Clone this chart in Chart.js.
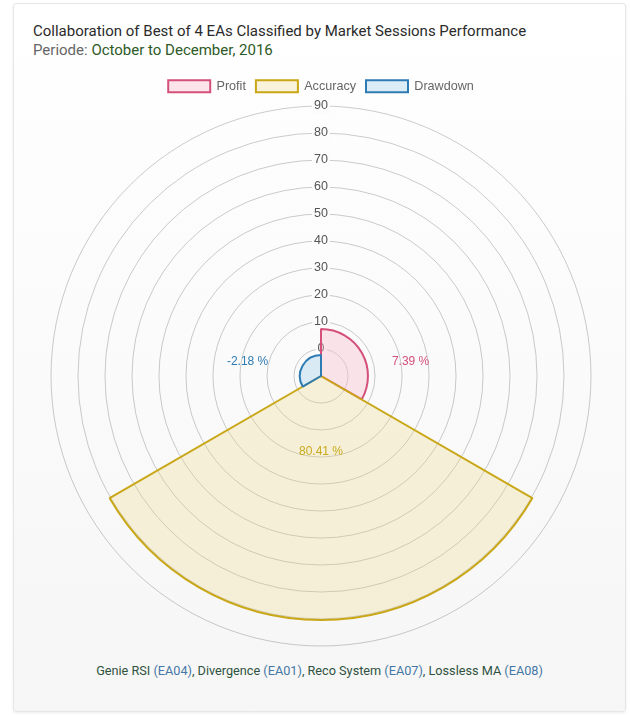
<!DOCTYPE html>
<html>
<head>
<meta charset="utf-8">
<script src="https://cdn.jsdelivr.net/npm/chart.js@4.4.1/dist/chart.umd.min.js"></script>
<style>
    body { margin: 0; background: #fff; font-family: Roboto, "Open Sans", sans-serif; }
    .card {
        position: absolute; left: 13px; top: 3px; width: 611px; height: 707px;
        border: 1px solid #e6e6e6; border-radius: 3px;
        box-shadow: 0 1px 3px rgba(0,0,0,0.08);
        background: linear-gradient(#ffffff, #f6f6f6);
    }
    .title { position: absolute; left: 19px; top: 18px; font-size: 15px; color: #2b2b2b; white-space: nowrap; }
    .sub { position: absolute; left: 19px; top: 37px; font-size: 15px; color: #666; white-space: nowrap; }
    .sub span { color: #2d5a27; }
    .foot { position: absolute; left: 0; width: 611px; top: 659px; text-align: center; font-size: 12.7px; color: #2f5240; }
    .foot span { color: #4577a6; }
    .wrap { position: absolute; left: 16px; top: 70px; width: 610px; height: 585px; }
</style>
</head>
<body>
<div class="card">
    <div class="title">Collaboration of Best of 4 EAs Classified by Market Sessions Performance</div>
    <div class="sub">Periode: <span>October to December, 2016</span></div>
    <div class="foot">Genie RSI <span>(EA04)</span>, Divergence <span>(EA01)</span>, Reco System <span>(EA07)</span>, Lossless MA <span>(EA08)</span></div>
</div>
<div class="wrap"><canvas id="chart"></canvas></div>
<script>
// values (in %)
const labels = ["Profit", "Accuracy", "Drawdown"];
const values = [7.39, 80.41, -2.18];
const tickMin = -10;
const tickMax = 90;
const tickStep = 10;

const borderColors = ["#d4507a", "#c9a716", "#2e7bb4"];
const textColors = ["#d4507a", "#c9aa1a", "#2e7bb4"];
const fillColors = ["rgba(250, 190, 208, 0.4)", "rgba(236, 212, 120, 0.25)", "rgba(170, 210, 235, 0.4)"];

// where each value text sits: angle from top (deg) and fraction of the radius
const labelSpots = [
    { angle: 81, dist: 0.336 },
    { angle: 180, dist: 0.28 },
    { angle: -79, dist: 0.277 }
];

// shrink the gap under the legend a bit
const legendGap = {
    id: "legendGap",
    beforeInit(chart) {
        const fit = chart.legend.fit;
        chart.legend.fit = function () {
            fit.bind(chart.legend)();
            this.height -= 5;
        };
    }
};

const valueText = {
    id: "valueText",
    afterDatasetsDraw(chart) {
        const ctx = chart.ctx;
        const r = chart.scales.r;
        ctx.save();
        ctx.font = "12px 'Liberation Sans', Arial, sans-serif";
        ctx.textAlign = "center";
        ctx.textBaseline = "middle";
        values.forEach((v, i) => {
            const a = labelSpots[i].angle * Math.PI / 180;
            const d = r.drawingArea * labelSpots[i].dist;
            ctx.fillStyle = textColors[i];
            ctx.fillText(v.toFixed(2) + " %", r.xCenter + Math.sin(a) * d, r.yCenter - Math.cos(a) * d);
        });
        ctx.restore();
    }
};

new Chart(document.getElementById("chart"), {
    type: "polarArea",
    data: {
        labels: labels,
        datasets: [{
            data: values,
            backgroundColor: fillColors,
            borderColor: borderColors,
            borderWidth: 2
        }]
    },
    options: {
        responsive: true,
        maintainAspectRatio: false,
        animation: false,
        font: { family: "'Liberation Sans', Arial, sans-serif", size: 12 },
        plugins: {
            legend: {
                labels: { color: "#666", boxWidth: 42, boxHeight: 12, padding: 10, font: { size: 12.6 } }
            },
            tooltip: { enabled: false }
        },
        scales: {
            r: {
                min: tickMin,
                max: tickMax,
                ticks: {
                    stepSize: tickStep,
                    color: "#555",
                    font: { size: 12.5 },
                    backdropColor: "rgba(252, 252, 252, 1)",
                    showLabelBackdrop: (c) => c.index !== 0,
                    callback: (v) => (v === tickMin ? "" : v)
                },
                grid: { color: "rgba(0, 0, 0, 0.2)" },
                angleLines: { display: false },
                pointLabels: { display: false }
            }
        }
    },
    plugins: [legendGap, valueText]
});
</script>
</body>
</html>
